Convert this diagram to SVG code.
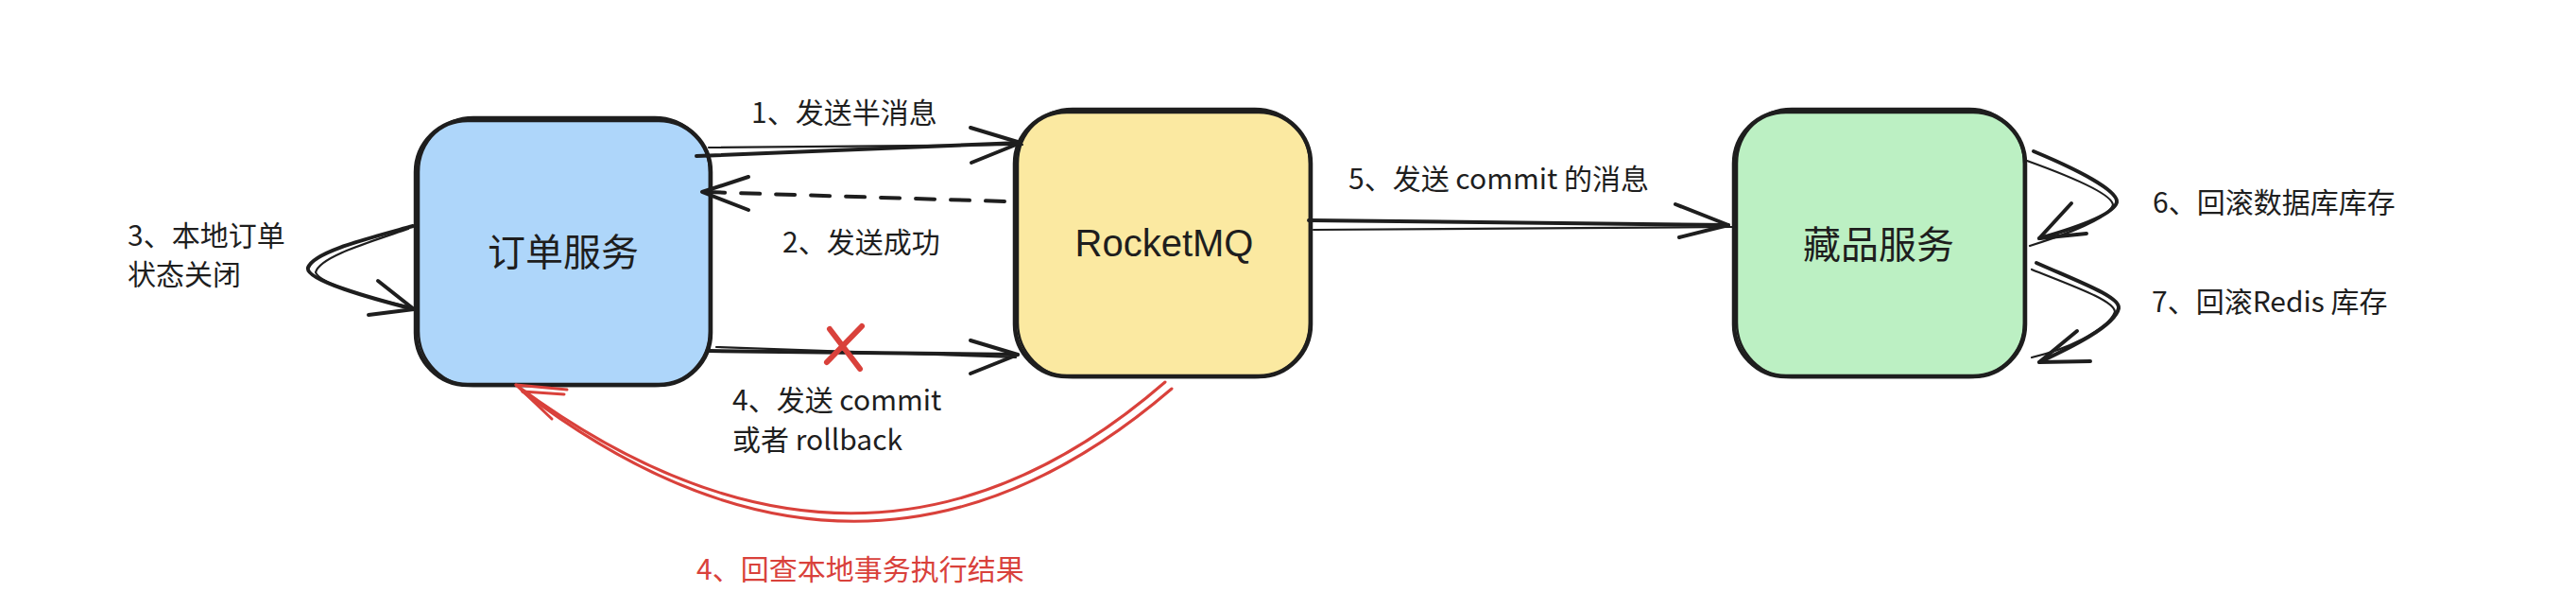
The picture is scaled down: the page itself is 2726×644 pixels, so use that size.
<svg xmlns="http://www.w3.org/2000/svg" width="2726" height="644" viewBox="0 0 2726 644">
<defs>
<style>
.box{stroke:#1e1e1e;stroke-width:4.5;stroke-linejoin:round}
.box2{fill:none;stroke:#1e1e1e;stroke-width:2.5}
.ln{fill:none;stroke:#1e1e1e;stroke-width:4;stroke-linecap:round;stroke-linejoin:round}
.ln2{fill:none;stroke:#1e1e1e;stroke-width:2.2;stroke-linecap:round}
.red{fill:none;stroke:#d9413b;stroke-width:3;stroke-linecap:round;stroke-linejoin:round}
.redx{fill:none;stroke:#d9413b;stroke-width:6;stroke-linecap:round}
.lbl{font-family:"Noto Sans CJK SC","Noto Sans",sans-serif;font-size:30px;fill:#1e1e1e;dominant-baseline:central}
.node{font-family:"Noto Sans CJK SC","Noto Sans",sans-serif;font-size:40px;fill:#1e1e1e;text-anchor:middle;dominant-baseline:central}
.mq{font-family:"Liberation Sans","Noto Sans",sans-serif;font-size:40px;fill:#1e1e1e;text-anchor:middle;dominant-baseline:central}
</style>
</defs>
<rect width="2726" height="644" fill="#ffffff"/>

<g id="node-order">
<rect class="box" x="440" y="127" width="312" height="280" rx="55" fill="#aed6fa"/>
<rect class="box2" x="443" y="124" width="308" height="284" rx="58"/>
<text class="node" x="596" y="264">订单服务</text>
</g>

<g id="node-rocketmq">
<rect class="box" x="1074" y="118" width="313" height="280" rx="55" fill="#fbe9a1"/>
<rect class="box2" x="1077" y="115" width="309" height="284" rx="58"/>
<text class="mq" x="1232" y="257">RocketMQ</text>
</g>

<g id="node-collection">
<rect class="box" x="1835" y="118" width="308" height="280" rx="55" fill="#bcf0c3"/>
<rect class="box2" x="1838" y="115" width="304" height="284" rx="58"/>
<text class="node" x="1988" y="256">藏品服务</text>
</g>

<g id="connectors">
<!-- 1 send half message -->
<path class="ln" d="M737,165 L1080,151"/>
<path class="ln2" d="M750,156 L1082,153"/>
<path class="ln" d="M1027,135 L1080,151 L1028,172"/>
<!-- 2 dashed success -->
<path class="ln" d="M1063,213 L745,203" stroke-dasharray="20 17" stroke-width="5"/>
<path class="ln" d="M792,187 L743,203 L792,222"/>
<!-- 3 self loop left -->
<path class="ln" d="M437,239 C390,252 332,266 326,283 C322,296 395,316 438,327"/>
<path class="ln2" d="M432,242 C385,258 338,272 334,288 C338,300 400,318 436,325"/>
<path class="ln" d="M400,297 L438,327 L390,333"/>
<!-- 4 commit/rollback -->
<path class="ln" d="M750,371 L1077,375"/>
<path class="ln2" d="M758,367 L1075,378"/>
<path class="ln" d="M1027,360 L1077,375 L1027,395"/>
<path class="redx" d="M878,348 L910,390 M912,345 L875,383"/>
<!-- 4 red check-back -->
<path class="red" d="M1233,404 Q915,680 546,407"/>
<path class="red" d="M1240,411 Q915,690 553,414"/>
<path class="red" d="M600,412 L546,407 L584,443"/>
<path class="red" d="M597,417 L553,414"/>
<!-- 5 commit message -->
<path class="ln" d="M1385,233 L1829,238"/>
<path class="ln2" d="M1390,243 L1833,240"/>
<path class="ln" d="M1773,216 L1829,238 L1777,251"/>
<!-- 6 loop -->
<path class="ln" d="M2152,160 C2200,180 2242,202 2240,214 C2236,228 2190,243 2158,252"/>
<path class="ln2" d="M2145,170 C2195,188 2236,206 2236,217 C2230,232 2180,250 2148,260"/>
<path class="ln" d="M2192,215 L2158,252 L2208,247"/>
<!-- 7 loop -->
<path class="ln" d="M2155,278 C2200,298 2244,314 2242,326 C2238,345 2190,368 2158,383"/>
<path class="ln2" d="M2150,285 C2195,303 2238,318 2238,330 C2230,350 2185,370 2150,378"/>
<path class="ln" d="M2198,350 L2158,383 L2212,382"/>
</g>

<g id="labels">
<text class="lbl" x="795" y="117">1、发送半消息</text>
<text class="lbl" x="828" y="254">2、发送成功</text>
<text class="lbl" x="135" y="247">3、本地订单</text>
<text class="lbl" x="135" y="288">状态关闭</text>
<text class="lbl" x="775" y="421">4、发送 commit</text>
<text class="lbl" x="775" y="463">或者 rollback</text>
<text class="lbl" x="737" y="600" style="fill:#d9413b">4、回查本地事务执行结果</text>
<text class="lbl" x="1427" y="187">5、发送 commit 的消息</text>
<text class="lbl" x="2278" y="212">6、回滚数据库库存</text>
<text class="lbl" x="2277" y="317">7、回滚Redis 库存</text>
</g>
</svg>
